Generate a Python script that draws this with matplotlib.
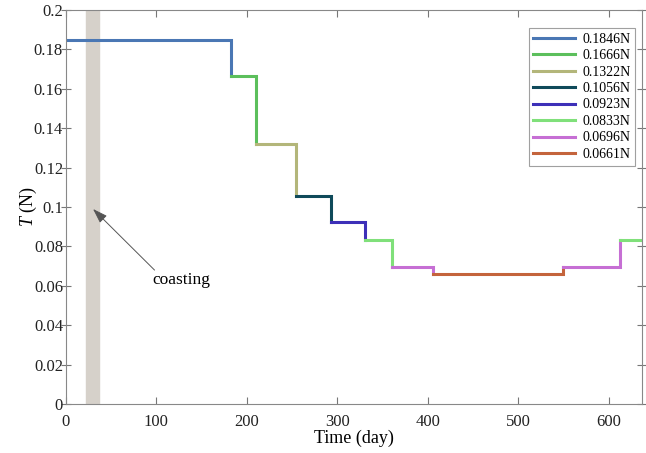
import numpy as np
import matplotlib.pyplot as plt

plt.rcParams['font.family'] = ['Liberation Serif', 'DejaVu Serif']
plt.rcParams['mathtext.fontset'] = 'custom'
plt.rcParams['mathtext.it'] = 'Liberation Serif:italic'

# thrust level for each arc, and arc boundaries in days
labels = ['0.1846N', '0.1666N', '0.1322N', '0.1056N', '0.0923N',
          '0.0833N', '0.0696N', '0.0661N']
levels = [0.1846, 0.1666, 0.1322, 0.1056, 0.0923, 0.0833, 0.0696, 0.0661]
colors = ['#4a77b4', '#5cbf5c', '#b3b67a', '#0f4a5a', '#3d30b8',
          '#80e07a', '#c66fd4', '#c4643c']

# segments: (start, end, level index)
seg_start = [0, 183, 210, 254, 293, 331, 361, 406, 550, 613]
seg_end = [183, 210, 254, 293, 331, 361, 406, 550, 613, 640]
seg_level = [0, 1, 2, 3, 4, 5, 6, 7, 6, 5]

coast_start, coast_end = 22, 37

fig = plt.figure(figsize=(6.46, 4.53), dpi=100)
ax = fig.add_axes([0.102, 0.108, 0.892, 0.87])

ax.axvspan(coast_start, coast_end, color='#d6d1ca', zorder=1)

# each arc: horizontal level, then the drop/rise to the next arc's level
done = set()
for i, (s, e, k) in enumerate(zip(seg_start, seg_end, seg_level)):
    y = levels[k]
    xs = [s, e]
    ys = [y, y]
    if i + 1 < len(seg_level):
        xs.append(e)
        ys.append(levels[seg_level[i + 1]])
    lab = labels[k] if k not in done else None
    done.add(k)
    ax.plot(xs, ys, color=colors[k], lw=2.2, label=lab, zorder=2,
            solid_joinstyle='miter')

ax.annotate('', xy=(30, 0.099), xytext=(98, 0.068),
            arrowprops=dict(arrowstyle='-|>,head_length=0.9,head_width=0.3',
                            color='#555555', lw=0.7, shrinkA=0, shrinkB=0))
ax.text(128, 0.063, 'coasting', fontsize=12.5, ha='center', va='center')

ax.set_xlim(0, 637)
ax.set_ylim(0, 0.2)
ax.set_xticks([0, 100, 200, 300, 400, 500, 600])
ax.set_yticks(np.arange(0, 0.201, 0.02))
ax.set_yticklabels(['0', '0.02', '0.04', '0.06', '0.08', '0.1', '0.12',
                    '0.14', '0.16', '0.18', '0.2'])
ax.tick_params(labelsize=12, colors='#777777', direction='in', length=5,
               top=True, right=True, labelcolor='#222222')
ax.tick_params(axis='x', pad=7)
ax.tick_params(axis='y', direction='inout', length=7, pad=-1.5)
for sp in ax.spines.values():
    sp.set_color('#888888')

ax.set_xlabel('Time (day)', fontsize=13, labelpad=0)
ax.set_ylabel('$T$ (N)', fontsize=13)
ax.yaxis.set_label_coords(-0.047, 0.5)

leg = ax.legend(loc='upper right', bbox_to_anchor=(0.988, 0.955),
                fontsize=10, frameon=True, fancybox=False,
                handlelength=3.0, handletextpad=0.5, borderpad=0.35,
                labelspacing=0.25, borderaxespad=0)
leg.get_frame().set_edgecolor('#888888')
leg.get_frame().set_linewidth(0.8)

fig.savefig('out.png', dpi=100)
